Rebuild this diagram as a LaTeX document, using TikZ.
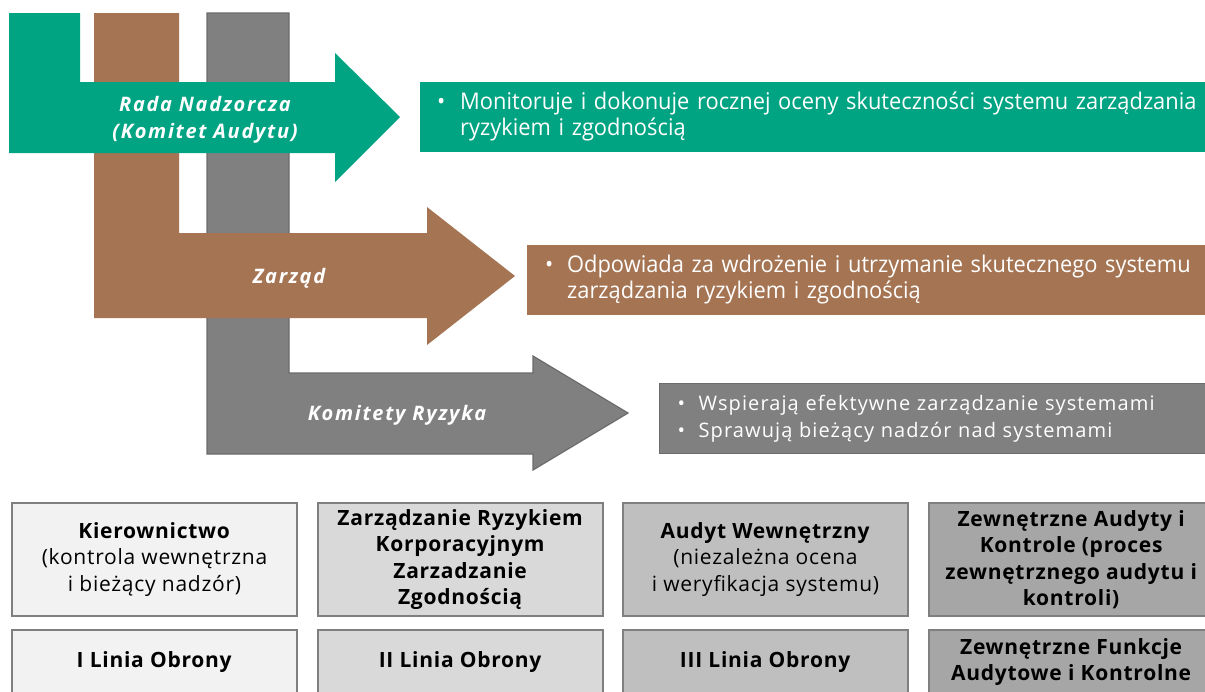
\documentclass[tikz,border=0pt]{standalone}
\usepackage{fontspec}
\setmainfont{Open Sans}
\newfontfamily\condfont{Open Sans}[FakeStretch=0.95]
\newfontfamily\armfont{Open Sans}[LetterSpace=8.5]
\newfontfamily\widefont{Open Sans}[LetterSpace=5.5]
\newfontfamily\boxfont{Open Sans}[LetterSpace=3.5]
\usetikzlibrary{positioning}
\definecolor{boardgreen}{HTML}{00A382}
\definecolor{mgmtbrown}{HTML}{A57453}
\definecolor{riskgray}{HTML}{808080}
\definecolor{riskedge}{HTML}{6B6B6B}
\definecolor{lineedge}{HTML}{7F7F7F}
\definecolor{lineA}{HTML}{F2F2F2}
\definecolor{lineB}{HTML}{D9D9D9}
\definecolor{lineC}{HTML}{BFBFBF}
\definecolor{lineD}{HTML}{A6A6A6}
\newcommand{\bulletlines}[2]{\begin{tabular}{@{}p{#1}@{}l@{}}#2\end{tabular}}

\begin{document}
\begin{tikzpicture}[
  x=1pt, y=-1pt,
  armlabel/.style={text=white, align=center, yshift=-2.5pt, font=\armfont\fontsize{20}{27}\selectfont\bfseries\itshape},
  infobox/.style={anchor=north west, inner xsep=18pt, inner ysep=0pt, minimum height=70pt, text width=780pt, text=white, align=left},
  linebox/.style={draw=lineedge, line width=1.5pt, minimum width=285pt, align=center, inner sep=2pt, font=\boxfont\fontsize{21}{26.5}\selectfont},
]
\useasboundingbox (0,0) rectangle (1205,691);
\clip (0,0) rectangle (1205,691);

% Arms (back to front)
\fill[riskgray, draw=riskedge, line width=1.2pt] (207,13) -- (289,13) -- (289,373) -- (533,373) -- (533,356) -- (628,413) -- (533,470) -- (533,454) -- (207,454) -- cycle;
\fill[mgmtbrown] (94,13) -- (179,13) -- (179,233) -- (427,233) -- (427,207) -- (515,276) -- (427,345) -- (427,318) -- (94,318) -- cycle;
\fill[boardgreen] (9,13) -- (80,13) -- (80,82) -- (335,82) -- (335,53) -- (400,117) -- (335,182) -- (335,153) -- (9,153) -- cycle;

\node[armlabel] (board) at (205,117) {Rada Nadzorcza\\(Komitet Audytu)};
\node[armlabel] (mgmt) at (289,276) {Zarząd};
\node[armlabel] (risk) at (397,413) {Komitety Ryzyka};

% Descriptions
\node[infobox, fill=boardgreen, inner xsep=17pt, font=\condfont\fontsize{23}{26}\selectfont] (boardinfo) at (420,82)
  {\bulletlines{23pt}{• & Monitoruje i dokonuje rocznej oceny skuteczności systemu zarządzania\\ & ryzykiem i zgodnością}};
\node[infobox, fill=mgmtbrown, font=\condfont\fontsize{23}{26}\selectfont] (mgmtinfo) at (527,245)
  {\bulletlines{22pt}{• & Odpowiada za wdrożenie i utrzymanie skutecznego systemu\\ & zarządzania ryzykiem i zgodnością}};
\node[infobox, fill=riskgray, draw=riskedge, line width=1.2pt, font=\widefont\fontsize{20}{27}\selectfont] (riskinfo) at (659,383)
  {\bulletlines{21pt}{• & Wspierają efektywne zarządzanie systemami\\ • & Sprawują bieżący nadzór nad systemami}};

% Lines of defence
\node[linebox, fill=lineA, minimum height=113pt] (mgr) at (154.5,559.5) {\textbf{Kierownictwo}\\(kontrola wewnętrzna\\i bieżący nadzór)};
\node[linebox, fill=lineB, minimum height=113pt] (erm) at (460.5,559.5) {\textbf{Zarządzanie Ryzykiem}\\\textbf{Korporacyjnym}\\\textbf{Zarzadzanie}\\\textbf{Zgodnością}};
\node[linebox, fill=lineC, minimum height=113pt] (ia) at (765.5,559.5) {\textbf{Audyt Wewnętrzny}\\(niezależna ocena\\i weryfikacja systemu)};
\node[linebox, fill=lineD, minimum height=113pt] (ext) at (1071.5,559.5) {\textbf{Zewnętrzne Audyty i}\\\textbf{Kontrole (proces}\\\textbf{zewnętrznego audytu i}\\\textbf{kontroli)}};

\node[linebox, fill=lineA, minimum height=64pt] (first) at (154.5,662) {\textbf{I Linia Obrony}};
\node[linebox, fill=lineB, minimum height=64pt] (second) at (460.5,662) {\textbf{II Linia Obrony}};
\node[linebox, fill=lineC, minimum height=64pt] (third) at (765.5,662) {\textbf{III Linia Obrony}};
\node[linebox, fill=lineD, minimum height=64pt] (extfun) at (1071.5,662) {\textbf{Zewnętrzne Funkcje}\\\textbf{Audytowe i Kontrolne}};
\end{tikzpicture}
\end{document}
